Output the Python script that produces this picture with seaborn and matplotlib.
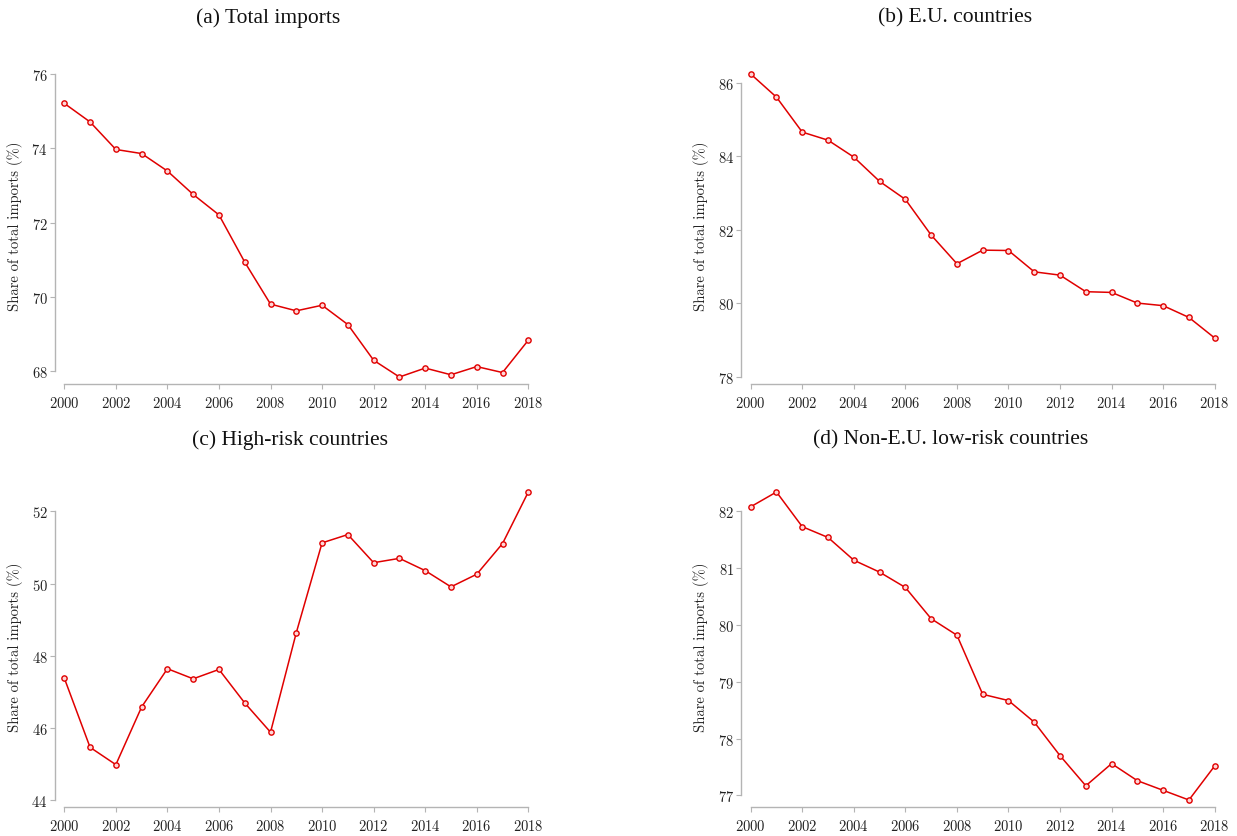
import pandas as pd
import seaborn as sns
import matplotlib.pyplot as plt

# Values (share of total imports, %)
years = list(range(2000, 2019))
total_imports = [75.21, 74.71, 73.97, 73.86, 73.39, 72.76, 72.21, 70.94, 69.81, 69.63,
                 69.78, 69.26, 68.30, 67.85, 68.09, 67.91, 68.13, 67.97, 68.84]
eu_countries = [86.24, 85.61, 84.66, 84.44, 83.98, 83.32, 82.83, 81.86, 81.08, 81.45,
                81.44, 80.86, 80.77, 80.32, 80.30, 80.01, 79.94, 79.62, 79.06]
high_risk = [47.38, 45.46, 44.98, 46.58, 47.64, 47.36, 47.62, 46.69, 45.88, 48.64,
             51.13, 51.36, 50.58, 50.70, 50.36, 49.91, 50.26, 51.11, 52.54]
non_eu_low_risk = [82.08, 82.34, 81.73, 81.54, 81.14, 80.93, 80.66, 80.11, 79.82, 78.78,
                   78.67, 78.29, 77.70, 77.17, 77.56, 77.26, 77.09, 76.92, 77.52]

titles = ['(a) Total imports', '(b) E.U. countries',
          '(c) High-risk countries', '(d) Non-E.U. low-risk countries']
yticks_a = [68, 70, 72, 74, 76]
yticks_b = [78, 80, 82, 84, 86]
yticks_c = [44, 46, 48, 50, 52]
yticks_d = [77, 78, 79, 80, 81, 82]
xticks = list(range(2000, 2019, 2))
ylabel = 'Share of total imports (%)'

sns.set_style('ticks')
plt.rcParams['font.family'] = ['cmr10', 'DejaVu Serif']
plt.rcParams['axes.formatter.use_mathtext'] = True

W, H = 1237, 837
fig = plt.figure(figsize=(W / 100, H / 100), dpi=100)

series = [total_imports, eu_countries, high_risk, non_eu_low_risk]
ticks = [yticks_a, yticks_b, yticks_c, yticks_d]
# pixel layout of the plot regions
col_left = [64.3, 750.7]
row_top = [75, 493]
row_bottom = [378, 801]
title_pos = [(268, 18), (955, 18), (290, 440), (951, 440)]

line_color = '#e00000'
spine_color = '#b4b4b4'

for i, (vals, yt) in enumerate(zip(series, ticks)):
    r, c = divmod(i, 2)
    left = col_left[c] / W
    bottom = 1 - row_bottom[r] / H
    width = 464 / W
    height = (row_bottom[r] - row_top[r]) / H
    ax = fig.add_axes([left, bottom, width, height])

    df = pd.DataFrame({'year': years, 'share': vals})
    sns.lineplot(data=df, x='year', y='share', ax=ax, color=line_color, linewidth=1.1,
                 marker='o', markersize=3.8, markerfacecolor='#ffd6d6',
                 markeredgecolor=line_color, markeredgewidth=1.0)
    for ln in ax.lines:
        ln.set_clip_on(False)

    ax.set_xlim(2000, 2018)
    ax.set_ylim(min(min(vals), yt[0]), max(max(vals), yt[-1]))
    ax.set_xticks(xticks)
    ax.set_yticks(yt)
    ax.set_xlabel('')
    ax.set_ylabel(ylabel, fontsize=10.5, color='#222222', labelpad=6)
    ax.tick_params(axis='both', labelsize=10.5, colors='#222222', length=3.5, width=0.8,
                   color=spine_color)
    ax.tick_params(axis='x', pad=4.5)
    ax.tick_params(axis='y', pad=1.5)
    sns.despine(ax=ax, offset={'left': 7, 'bottom': 5}, trim=True)
    for s in ['left', 'bottom']:
        ax.spines[s].set_color(spine_color)
        ax.spines[s].set_linewidth(1.0)

    fig.text(title_pos[i][0] / W, 1 - title_pos[i][1] / H, titles[i],
             ha='center', va='center', fontsize=15.5, family='Liberation Serif',
             color='#111111')

fig.savefig('out.png', dpi=100)
